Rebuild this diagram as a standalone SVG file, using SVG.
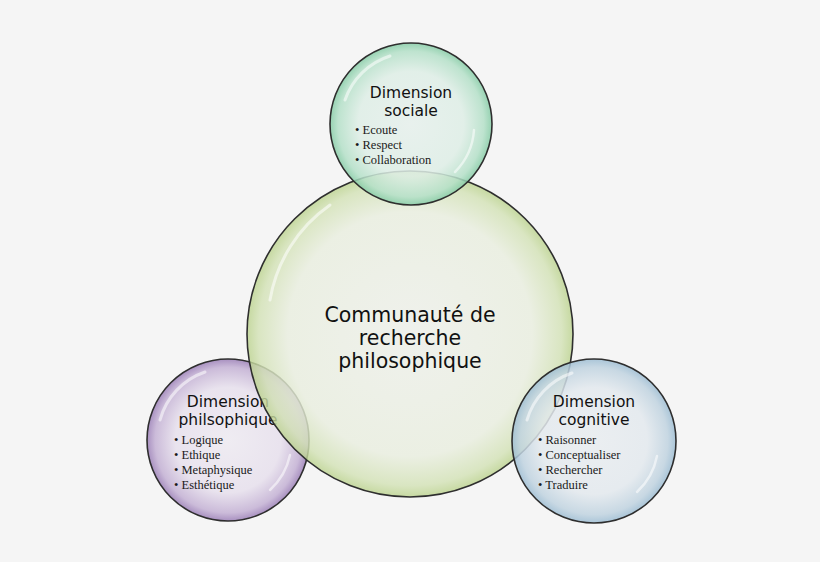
<svg xmlns="http://www.w3.org/2000/svg" width="820" height="562" viewBox="0 0 820 562">
<defs>
<radialGradient id="gCenter" cx="50%" cy="50%" r="50%">
<stop offset="0" stop-color="#eef0ea"/><stop offset="0.75" stop-color="#e9eedf"/><stop offset="0.93" stop-color="#d3e2b6"/><stop offset="1" stop-color="#bcd38f"/>
</radialGradient>
<radialGradient id="gTop" cx="50%" cy="50%" r="50%">
<stop offset="0" stop-color="#e6f0ec"/><stop offset="0.65" stop-color="#deeee6"/><stop offset="0.9" stop-color="#b4e0c8"/><stop offset="1" stop-color="#86cca6"/>
</radialGradient>
<radialGradient id="gLeft" cx="50%" cy="50%" r="50%">
<stop offset="0" stop-color="#efecf2"/><stop offset="0.65" stop-color="#e9e3ee"/><stop offset="0.9" stop-color="#cbbbd9"/><stop offset="1" stop-color="#a890c0"/>
</radialGradient>
<radialGradient id="gRight" cx="50%" cy="50%" r="50%">
<stop offset="0" stop-color="#e9edf0"/><stop offset="0.65" stop-color="#e3e9ee"/><stop offset="0.9" stop-color="#c0d3e0"/><stop offset="1" stop-color="#9dbdd3"/>
</radialGradient>
<style>
.ring{stroke:#2e2e2e;stroke-width:1.6}
.hl{fill:none;stroke:#ffffff;stroke-linecap:round;opacity:0.55}
.title{font-family:"Segoe Print","Comic Sans MS","DejaVu Sans",sans-serif;fill:#111;text-anchor:middle}
.t15{font-size:15.5px}
.t20{font-size:20.5px}
.item{font-family:"Liberation Serif",serif;font-size:12.5px;fill:#1a1a1a}
</style>
</defs>
<rect width="820" height="562" fill="#f5f5f5"/>

<g id="node-philosophique">
<circle class="ring" cx="228" cy="440" r="81" fill="url(#gLeft)"/>
<path class="hl" stroke-width="3" d="M160,420 A70,70 0 0 1 205,372"/>
<path class="hl" stroke-width="2.5" d="M290,455 A66,66 0 0 1 270,490"/>
<text class="title t15" x="228" y="407">Dimension</text>
<text class="title t15" x="228" y="425">philsophique</text>
<text class="item" x="174" y="444">• Logique</text>
<text class="item" x="174" y="459">• Ethique</text>
<text class="item" x="174" y="474">• Metaphysique</text>
<text class="item" x="174" y="489">• Esthétique</text>
</g>

<g id="node-centre">
<circle class="ring" cx="410" cy="334" r="163" fill="url(#gCenter)" fill-opacity="0.82"/>
<path class="hl" stroke-width="3" d="M270,300 A145,145 0 0 1 330,205"/>
<text class="title t20" x="410" y="322">Communauté de</text>
<text class="title t20" x="410" y="345">recherche</text>
<text class="title t20" x="410" y="368">philosophique</text>
</g>

<g id="node-sociale">
<circle class="ring" cx="411" cy="124" r="81" fill="url(#gTop)" fill-opacity="0.85"/>
<path class="hl" stroke-width="3" d="M345,100 A70,70 0 0 1 390,56"/>
<path class="hl" stroke-width="2.5" d="M474,130 A66,66 0 0 1 455,172"/>
<text class="title t15" x="411" y="98">Dimension</text>
<text class="title t15" x="411" y="116">sociale</text>
<text class="item" x="355" y="134">• Ecoute</text>
<text class="item" x="355" y="149">• Respect</text>
<text class="item" x="355" y="164">• Collaboration</text>
</g>

<g id="node-cognitive">
<circle class="ring" cx="594" cy="441" r="82" fill="url(#gRight)" fill-opacity="0.85"/>
<path class="hl" stroke-width="3" d="M527,420 A70,70 0 0 1 572,373"/>
<path class="hl" stroke-width="2.5" d="M657,456 A66,66 0 0 1 637,492"/>
<text class="title t15" x="594" y="407">Dimension</text>
<text class="title t15" x="594" y="425">cognitive</text>
<text class="item" x="538" y="444">• Raisonner</text>
<text class="item" x="538" y="459">• Conceptualiser</text>
<text class="item" x="538" y="474">• Rechercher</text>
<text class="item" x="538" y="489">• Traduire</text>
</g>

<g id="connectors"/>
</svg>
